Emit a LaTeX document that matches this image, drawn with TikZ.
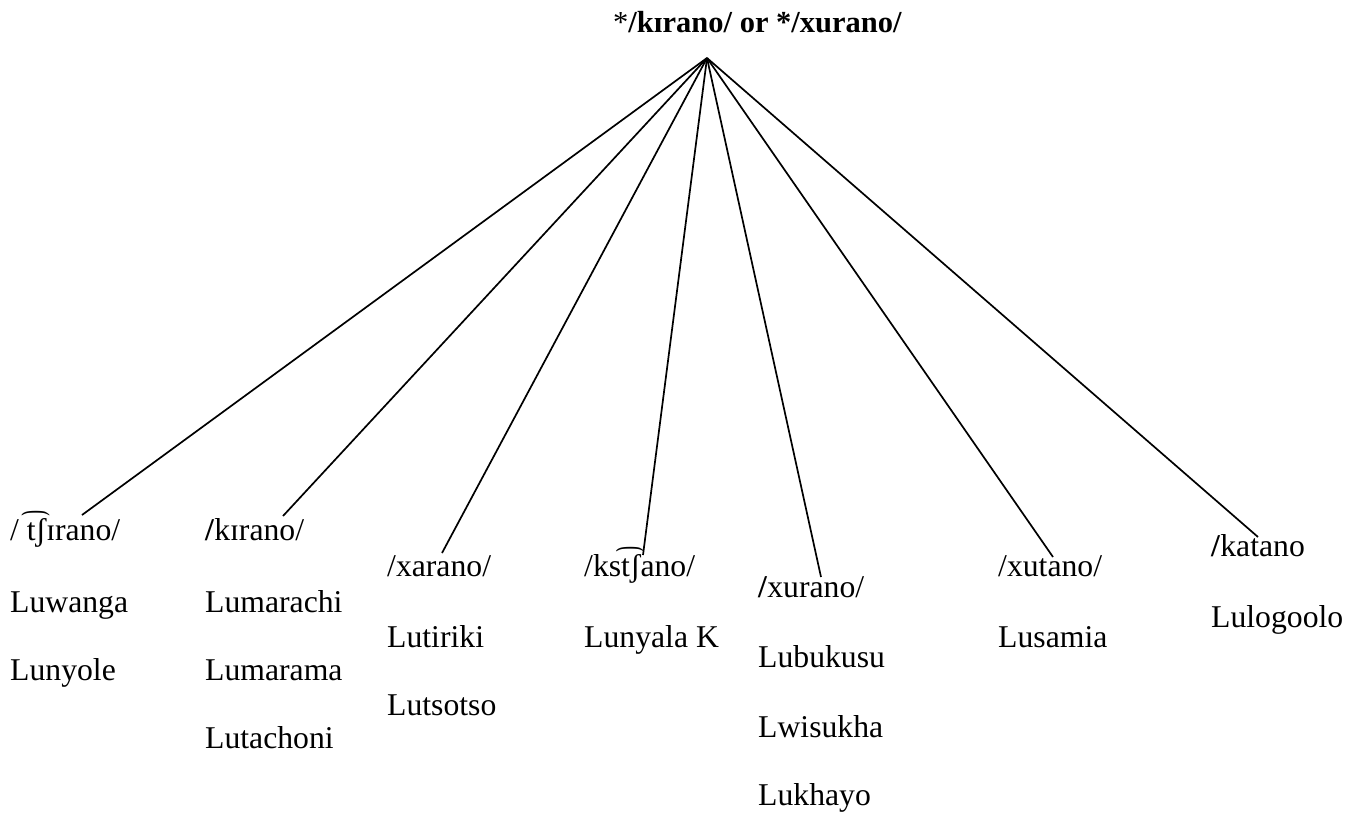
\documentclass[tikz,border=0pt]{standalone}
\usepackage{fontspec}
\setmainfont{Liberation Serif}
\newfontfamily\ipafont{DejaVu Serif}
\begin{document}
\begin{tikzpicture}[x=1pt,y=-1pt,
  lbl/.style={anchor=base west,inner sep=0pt,font=\fontsize{31.7}{38}\selectfont},
  ttl/.style={anchor=base west,inner sep=0pt,font=\fontsize{30.5}{36}\selectfont},
  branch/.style={line width=1.7pt}]
\useasboundingbox (0,0) rectangle (1360,812);
% root label and apex
\node[ttl] (root) at (613,32) {*\textbf{/kɪrano/ or */xurano/}};
\coordinate (apex) at (707,58);
% reflexes and the languages under them
\node[lbl] (f1) at (10,540) {/ t{\ipafont ͡}ʃɪrano/};
\node[lbl] (l1a) at (10,612) {Luwanga};
\node[lbl] (l1b) at (10,680) {Lunyole};
\node[lbl] (f2) at (205,540) {\textbf{/}kɪrano/};
\node[lbl] (l2a) at (205,612) {Lumarachi};
\node[lbl] (l2b) at (205,680) {Lumarama};
\node[lbl] (l2c) at (205,748) {Lutachoni};
\node[lbl] (f3) at (387,576) {/xarano/};
\node[lbl] (l3a) at (387,647) {Lutiriki};
\node[lbl] (l3b) at (387,715) {Lutsotso};
\node[lbl] (f4) at (584,576) {/kst{\ipafont ͡}ʃano/};
\node[lbl] (l4a) at (584,647) {Lunyala K};
\node[lbl] (f5) at (758,597) {\textbf{/}xurano/};
\node[lbl] (l5a) at (758,667) {Lubukusu};
\node[lbl] (l5b) at (758,737) {Lwisukha};
\node[lbl] (l5c) at (758,805) {Lukhayo};
\node[lbl] (f6) at (998,576) {/xutano/};
\node[lbl] (l6a) at (998,647) {Lusamia};
\node[lbl] (f7) at (1211,556) {\textbf{/}katano};
\node[lbl] (l7a) at (1211,627) {Lulogoolo};
% branch ends
\coordinate (e1) at (82,515);
\coordinate (e2) at (283,516);
\coordinate (e3) at (442,553);
\coordinate (e4) at (643,555);
\coordinate (e5) at (821,577);
\coordinate (e6) at (1053,557);
\coordinate (e7) at (1258,537);
\foreach \e in {e1,e2,e3,e4,e5,e6,e7}
  \draw[branch] (apex) -- (\e);
\end{tikzpicture}
\end{document}
